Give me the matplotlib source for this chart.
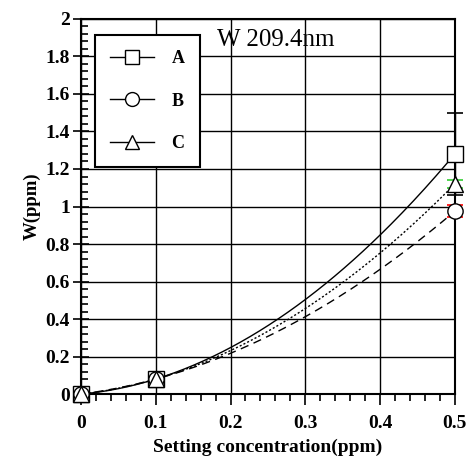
import numpy as np
import matplotlib.pyplot as plt
from matplotlib.ticker import MultipleLocator

plt.rcParams['font.family'] = ['Liberation Serif', 'DejaVu Serif']
plt.rcParams['font.weight'] = 'bold'

conc = [0.0, 0.1, 0.5]
w_a = [0.0, 0.08, 1.28]
w_b = [0.0, 0.08, 0.975]
w_c = [0.0, 0.08, 1.12]
err_a = [0.0, 0.0, 0.22]
err_b = [0.0, 0.0, 0.032]
err_c = [0.0, 0.0, 0.02]
labels = ['A', 'B', 'C']
xticks = [0.0, 0.1, 0.2, 0.3, 0.4, 0.5]
xtick_labels = ['0', '0.1', '0.2', '0.3', '0.4', '0.5']
yticks = [0.0, 0.2, 0.4, 0.6, 0.8, 1.0, 1.2, 1.4, 1.6, 1.8, 2.0]
ytick_labels = ['0', '0.2', '0.4', '0.6', '0.8', '1', '1.2', '1.4', '1.6',
                '1.8', '2']

fig = plt.figure(figsize=(4.72, 4.62), dpi=100)
ax = fig.add_axes([0.1716, 0.147, 0.792, 0.812])

xs = np.linspace(0, 0.5, 200)
series = [
    (w_a, err_a, 's', '-', 'black', labels[0]),
    (w_b, err_b, 'o', (0, (6, 4)), 'red', labels[1]),
    (w_c, err_c, '^', (0, (1.5, 1.5)), 'limegreen', labels[2]),
]
handles = []
for w, e, m, ls, ecol, lab in series:
    # quadratic fit through the measured points, like the original
    p = np.polyfit(conc, w, 2)
    ax.plot(xs, np.polyval(p, xs), color='black', lw=1.0, ls=ls, zorder=3)
    ax.errorbar(conc, w, yerr=e, fmt='none', ecolor=ecol, elinewidth=1.0,
                capsize=6, capthick=1.2, zorder=4, clip_on=False)
    ax.plot(conc, w, ls='none', marker=m, ms=11, mfc='white', mec='black',
            mew=1.0, zorder=5, clip_on=False)
    h, = ax.plot([], [], color='black', lw=1.0, marker=m, ms=10,
                 mfc='white', mec='black', mew=1.0)
    handles.append(h)

ax.set_xlim(0, 0.5)
ax.set_ylim(0, 2)
ax.set_xticks(xticks, xtick_labels)
ax.set_yticks(yticks, ytick_labels)
ax.xaxis.set_minor_locator(MultipleLocator(0.02))
ax.yaxis.set_minor_locator(MultipleLocator(0.04))
ax.grid(True, which='major', color='black', lw=1.0)
ax.tick_params(axis='x', which='major', direction='out', length=8, width=1.2,
               labelsize=14, pad=7)
ax.tick_params(axis='x', which='minor', direction='out', length=5, width=1.2)
ax.tick_params(axis='y', which='major', direction='inout', length=12, width=1.2,
               labelsize=14, pad=2)
ax.tick_params(axis='y', which='minor', direction='in', length=5, width=1.2)
for s in ax.spines.values():
    s.set_linewidth(1.5)

ax.set_xlabel('Setting concentration(ppm)', fontsize=14, fontweight='bold',
              labelpad=5)
ax.set_ylabel('W(ppm)', fontsize=13.5, fontweight='bold', labelpad=3)
ax.text(0.365, 0.945, 'W 209.4nm', transform=ax.transAxes, fontsize=18,
        fontweight='normal', ha='left', va='center')

leg = ax.legend(handles, labels, loc='upper left', bbox_to_anchor=(0.037, 0.957),
                borderaxespad=0, fancybox=False, edgecolor='black', framealpha=1,
                prop={'size': 13, 'weight': 'bold'}, handlelength=2.4,
                labelspacing=1.4, borderpad=0.85, handletextpad=1.0)
leg.get_frame().set_linewidth(1.5)

fig.savefig('out.png', dpi=100)
